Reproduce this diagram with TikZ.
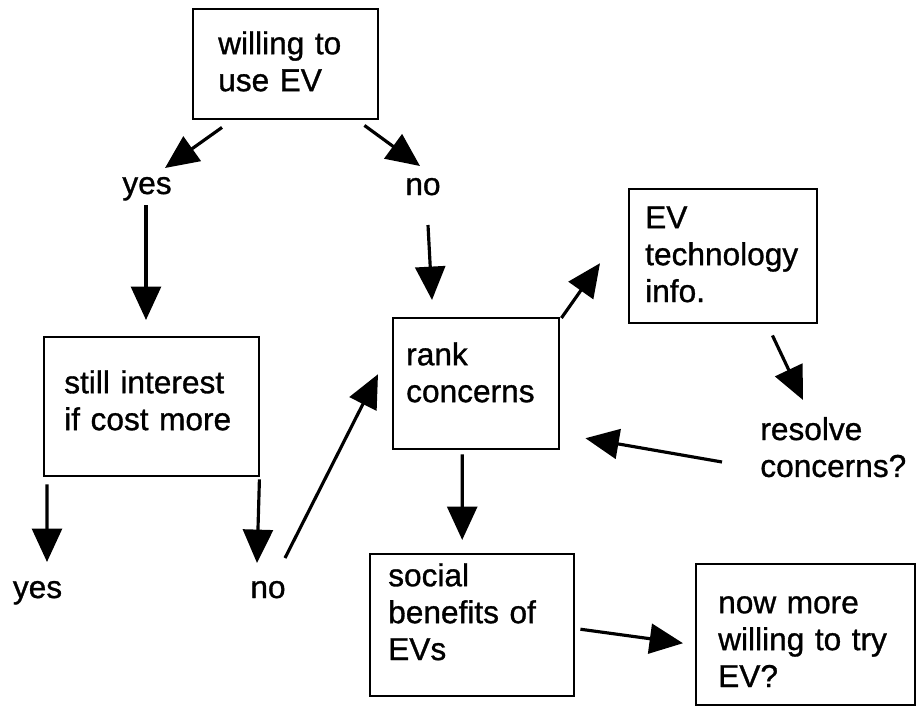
\documentclass[tikz,border=0pt]{standalone}
\usepackage{fontspec}
\setmainfont{Liberation Sans}[FakeBold=1]
\usetikzlibrary{positioning, calc, arrows.meta}
\hyphenpenalty=10000
\tikzset{
  %% plain question box (text sits at top left)
  box/.style={
    rectangle, draw, line width=1.4pt,
    align=left, font=\fontsize{18}{21}\selectfont,
    inner ysep=0pt, anchor=north west
  },
  %% answer labels
  lbl/.style={
    font=\fontsize{18}{21}\selectfont,
    align=left, inner sep=0pt, anchor=base
  },
  %% arrows
  arr/.style={
    -{Triangle[length=19pt, width=17pt]},
    line width=1.8pt
  }
}
\begin{document}
\begin{tikzpicture}[x=0.02cm, y=-0.02cm]

\useasboundingbox (0,0) rectangle (916,706);

%% ═══════════════════════════════════════════════════════════════
%%  BOXES
%% ═══════════════════════════════════════════════════════════════

\node[box, text width=2.7cm, inner xsep=0.5cm, text height=0.9cm, text depth=1.3cm]
  (willing) at (192,8) {willing to\\use EV};

\node[box, text width=3.5cm, inner xsep=0.4cm, text height=1.12cm, text depth=1.66cm]
  (stillInt) at (43,336) {still interest\\if cost more};

\node[box, text width=2.8cm, inner xsep=0.26cm, text height=0.94cm, text depth=1.68cm]
  (rank) at (392,317) {rank\\concerns};

\node[box, text width=3.12cm, inner xsep=0.32cm, text height=0.78cm, text depth=1.9cm]
  (techInfo) at (628,188) {EV\\technology\\info.};

\node[box, text width=3.36cm, inner xsep=0.36cm, text height=0.64cm, text depth=2.2cm]
  (social) at (369,553) {social\\benefits of\\EVs};

\node[box, text width=3.5cm, inner xsep=0.44cm, text height=0.98cm, text depth=1.84cm]
  (nowMore) at (695,563) {now more\\willing to try\\EV?};

%% ═══════════════════════════════════════════════════════════════
%%  ANSWERS
%% ═══════════════════════════════════════════════════════════════

\node[lbl] (yesA) at (147,194) {yes};
\node[lbl] (noA)  at (423,195) {no};
\node[lbl] (yesB) at (37.5,598) {yes};
\node[lbl] (noB)  at (268,598) {no};
\node[lbl, text width=3cm, anchor=base west] (resolve) at (760,440) {resolve\\concerns?};

%% ═══════════════════════════════════════════════════════════════
%%  ARROWS
%% ═══════════════════════════════════════════════════════════════

\draw[arr] ($(willing.south west)+(30,7)$) -- ($(yesA.base)+(18,-26)$);
\draw[arr] ($(willing.south east)+(-15,5)$) -- ($(noA.base)+(-3,-29)$);

\draw[arr] ($(yesA.base)+(-1,11)$) -- ($(stillInt.north west)+(103,-16)$);
\draw[arr] ($(noA.base)+(5,30)$) -- ($(rank.north west)+(40,-17)$);

\draw[arr] ($(stillInt.south west)+(4,7)$) -- ($(yesB.base)+(9.5,-36)$);
\draw[arr] ($(stillInt.south east)+(-1,2)$) -- ($(noB.base)+(-11,-35)$);
\draw[arr] ($(noB.base)+(17,-40)$) -- ($(rank.west)+(-14,-9.5)$);

\draw[arr] ($(rank.north east)+(1,1)$) -- ($(techInfo.west)+(-28,7)$);
\draw[arr] ($(techInfo.south east)+(-46,11)$) -- ($(resolve.base west)+(43,-40)$);
\draw[arr] ($(resolve.base west)+(-38,22)$) -- ($(rank.east)+(25,54.5)$);

\draw[arr] ($(rank.south)+(-14,4)$) -- ($(social.north)+(-10,-13)$);
\draw[arr] ($(social.east)+(5,4)$) -- ($(nowMore.west)+(-12,8.5)$);

\end{tikzpicture}
\end{document}
